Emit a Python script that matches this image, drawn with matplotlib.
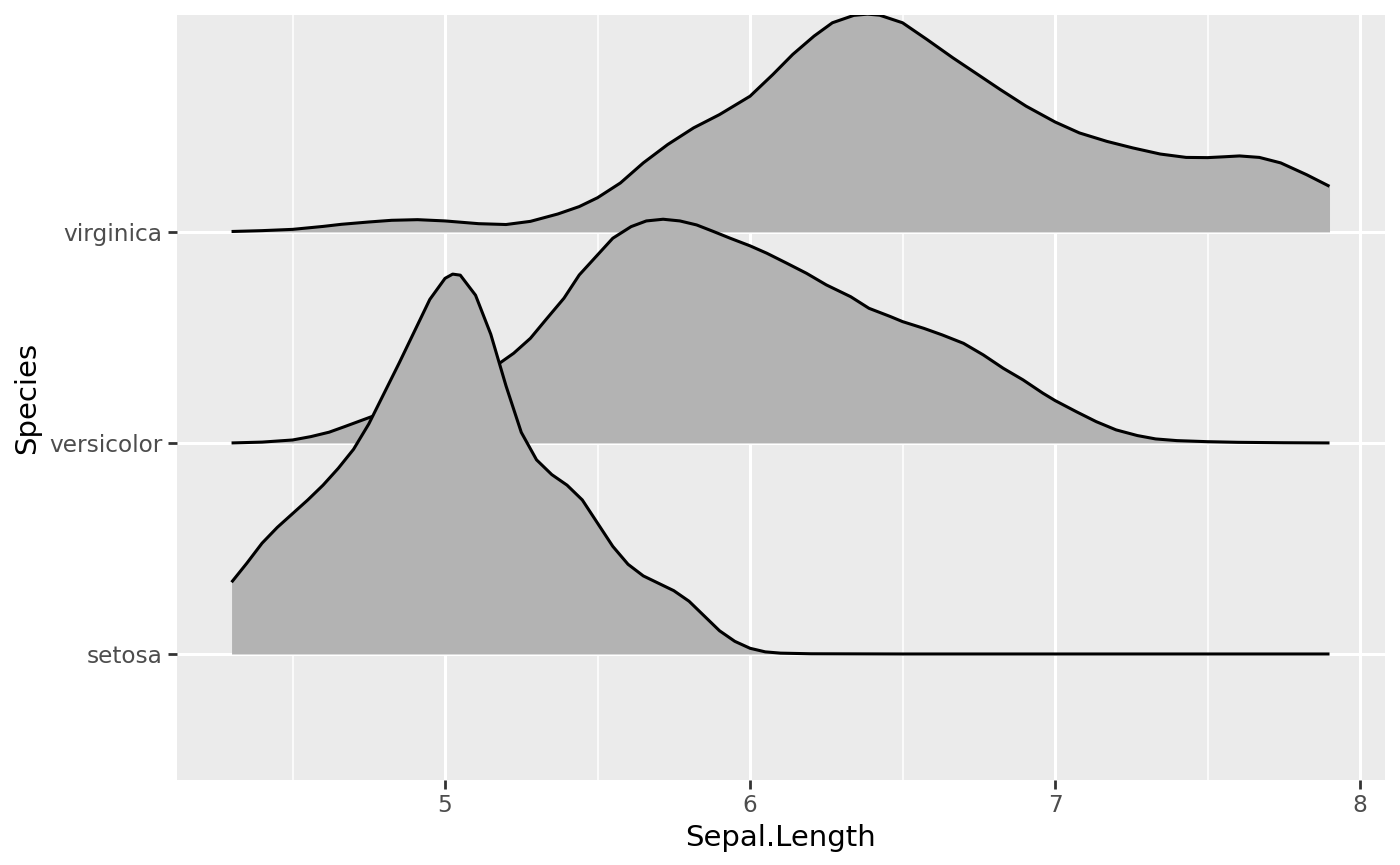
import matplotlib
matplotlib.use("Agg")
import matplotlib.pyplot as plt

species = ["setosa", "versicolor", "virginica"]

# density heights (in ridge units, baseline = 0)
setosa_x = [4.30, 4.35, 4.40, 4.45, 4.50, 4.55, 4.60, 4.65, 4.70, 4.75, 4.80, 4.85, 4.90,
            4.95, 5.00, 5.025, 5.05, 5.10, 5.15, 5.20, 5.25, 5.30, 5.35, 5.40, 5.45, 5.50,
            5.55, 5.60, 5.65, 5.70, 5.75, 5.80, 5.85, 5.90, 5.95, 6.00, 6.05, 6.10, 6.20,
            6.50, 7.90]
setosa_d = [0.34, 0.43, 0.525, 0.60, 0.665, 0.73, 0.80, 0.88, 0.97, 1.09, 1.235, 1.38, 1.53,
            1.68, 1.78, 1.80, 1.795, 1.70, 1.515, 1.27, 1.05, 0.92, 0.85, 0.80, 0.73, 0.62,
            0.51, 0.425, 0.37, 0.335, 0.30, 0.25, 0.18, 0.11, 0.06, 0.027, 0.01, 0.004, 0.001,
            0.0, 0.0]

versicolor_x = [4.30, 4.40, 4.50, 4.56, 4.62, 4.67, 4.76, 4.90, 5.00, 5.10, 5.175, 5.225,
                5.28, 5.33, 5.39, 5.44, 5.50, 5.55, 5.61, 5.66, 5.715, 5.77, 5.825, 5.88,
                5.935, 6.00, 6.055, 6.12, 6.185, 6.25, 6.33, 6.39, 6.46, 6.50, 6.57, 6.63,
                6.70, 6.765, 6.83, 6.895, 6.96, 7.00, 7.07, 7.135, 7.20, 7.27, 7.33, 7.40,
                7.50, 7.60, 7.75, 7.90]
versicolor_d = [0.0, 0.004, 0.014, 0.03, 0.051, 0.077, 0.125, 0.20, 0.25, 0.31, 0.374, 0.425,
                0.496, 0.583, 0.686, 0.796, 0.891, 0.970, 1.025, 1.052, 1.060, 1.052, 1.033, 1.002,
                0.970, 0.934, 0.899, 0.852, 0.804, 0.749, 0.693, 0.638, 0.599, 0.575, 0.543, 0.512,
                0.472, 0.417, 0.354, 0.299, 0.236, 0.201, 0.148, 0.101, 0.062, 0.035, 0.019, 0.011,
                0.006, 0.003, 0.001, 0.0]

virginica_x = [4.30, 4.40, 4.50, 4.60, 4.66, 4.75, 4.825, 4.91, 5.00, 5.11, 5.20, 5.28,
               5.37, 5.44, 5.50, 5.575, 5.65, 5.73, 5.815, 5.90, 6.00, 6.075, 6.14, 6.21,
               6.27, 6.34, 6.385, 6.425, 6.50, 6.58, 6.665, 6.755, 6.82, 6.905, 7.00, 7.08,
               7.17, 7.255, 7.345, 7.43, 7.50, 7.555, 7.605, 7.67, 7.74, 7.825, 7.90]
virginica_d = [0.002, 0.006, 0.012, 0.026, 0.036, 0.047, 0.055, 0.058, 0.052, 0.039, 0.035, 0.050,
               0.085, 0.12, 0.162, 0.232, 0.327, 0.414, 0.493, 0.556, 0.643, 0.746, 0.841, 0.928,
               0.991, 1.026, 1.032, 1.027, 0.991, 0.912, 0.825, 0.738, 0.675, 0.596, 0.521, 0.469,
               0.429, 0.398, 0.369, 0.353, 0.352, 0.356, 0.360, 0.353, 0.327, 0.271, 0.216]

x_ticks = [5, 6, 7, 8]
x_minor = [4.5, 5.5, 6.5, 7.5]

ridges = [(setosa_x, setosa_d), (versicolor_x, versicolor_d), (virginica_x, virginica_d)]

fig = plt.figure(figsize=(7, 4.325), dpi=200)
ax = fig.add_axes([0.1264, 0.0983, 0.8629, 0.8844])
ax.set_facecolor("#EBEBEB")
for s in ax.spines.values():
    s.set_visible(False)

for xm in x_minor:
    ax.axvline(xm, color="white", lw=0.55, zorder=0)
for xt in x_ticks:
    ax.axvline(xt, color="white", lw=1.1, zorder=0)
for i in range(len(species)):
    ax.axhline(i + 1, color="white", lw=1.1, zorder=0)

# draw from the top ridge down so lower ridges sit in front
for i in reversed(range(len(species))):
    xs, ds = ridges[i]
    base = i + 1
    top = [base + d for d in ds]
    z = 3 + (len(species) - i) * 2
    ax.fill_between(xs, base, top, color="#B3B3B3", lw=0, zorder=z)
    ax.plot(xs, top, color="black", lw=1.1, zorder=z + 1,
            solid_joinstyle="round", solid_capstyle="butt")

ax.set_xlim(4.121, 8.082)
ax.set_ylim(0.403, 4.028)
ax.set_xticks(x_ticks)
ax.set_xticklabels([str(t) for t in x_ticks])
ax.set_yticks([1, 2, 3])
ax.set_yticklabels(species)
ax.tick_params(axis="both", colors="#333333", length=3.3, width=1.0, labelsize=8.4,
               labelcolor="#4D4D4D", pad=1.8)
ax.set_xlabel("Sepal.Length", fontsize=10.5, color="black", labelpad=2.5)
ax.set_ylabel("Species", fontsize=10.5, color="black", labelpad=3)

fig.savefig("out.png", dpi=200)
